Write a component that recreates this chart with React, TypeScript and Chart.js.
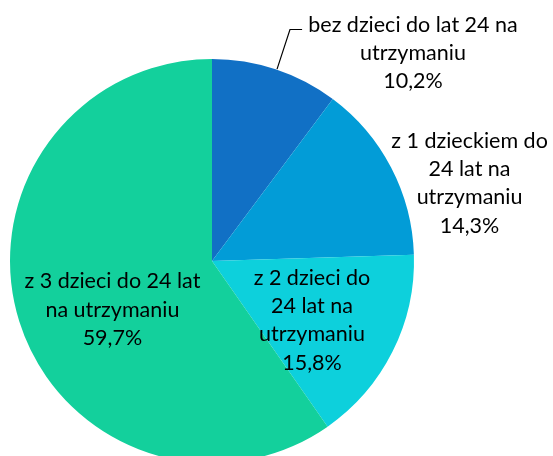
import React, { useEffect, useRef } from "react";
import { Chart, registerables } from "chart.js";

Chart.register(...registerables);

const categories: string[][] = [
  ["bez dzieci do lat 24 na", "utrzymaniu"],
  ["z 1 dzieckiem do", "24 lat na", "utrzymaniu"],
  ["z 2 dzieci do", "24 lat na", "utrzymaniu"],
  ["z 3 dzieci do 24 lat", "na utrzymaniu"],
];
const values: number[] = [10.2, 14.3, 15.8, 59.7];
const percentLabels: string[] = ["10,2%", "14,3%", "15,8%", "59,7%"];
const colors: string[] = ["#1170C5", "#029CD7", "#0DD0DC", "#13D09C"];

// label block centre offsets (baseline-centred), in units of the pie radius from the pie centre
const labelOffsets = [
  [0.995, -0.995],
  [1.275, -0.351],
  [0.495, 0.327],
  [-0.493, 0.275],
];

const labelPlugin = {
  id: "pieLabels",
  afterDatasetsDraw(chart: any) {
    const meta = chart.getDatasetMeta(0);
    const ctx = chart.ctx;
    const first = meta.data[0];
    const cx = first.x;
    const cy = first.y;
    const r = first.outerRadius;
    ctx.save();
    // leader line for first label
    ctx.strokeStyle = "#000";
    ctx.lineWidth = 1.2;
    ctx.beginPath();
    ctx.moveTo(cx + 0.322 * r, cy - 0.95 * r);
    ctx.lineTo(cx + 0.386 * r, cy - 1.146 * r);
    ctx.lineTo(cx + 0.446 * r, cy - 1.146 * r);
    ctx.stroke();

    ctx.fillStyle = "#000";
    ctx.font = "21.5px Lato";
    ctx.textAlign = "center";
    ctx.textBaseline = "alphabetic";
    const lh = 28.3;
    meta.data.forEach((arc: any, i: number) => {
      const lines = [...categories[i], percentLabels[i]];
      const bx = cx + labelOffsets[i][0] * r;
      const by = cy + labelOffsets[i][1] * r;
      const top = by - ((lines.length - 1) * lh) / 2;
      lines.forEach((t, j) => ctx.fillText(t, bx, top + j * lh));
    });
    ctx.restore();
  },
};

export default function App() {
  const ref = useRef<HTMLCanvasElement>(null);
  useEffect(() => {
    document.body.style.margin = "0";
    document.body.style.overflow = "hidden";
    const chart = new Chart(ref.current!, {
      type: "pie",
      data: {
        labels: categories.map((c) => c.join(" ")),
        datasets: [
          {
            data: values,
            backgroundColor: colors,
            borderWidth: 0,
          },
        ],
      },
      options: {
        responsive: false,
        animation: false,
        devicePixelRatio: 1,
        layout: { padding: { left: 10, top: 59, right: 139, bottom: 7 } },
        plugins: {
          legend: { display: false },
          tooltip: { enabled: false },
        },
      },
      plugins: [labelPlugin],
    });
    return () => chart.destroy();
  }, []);
  return (
    <div
      style={{
        position: "fixed",
        left: 0,
        top: 0,
        width: 553,
        height: 456,
        overflow: "hidden",
        background: "#fff",
      }}
    >
      <canvas ref={ref} width={553} height={470} style={{ display: "block" }} />
    </div>
  );
}
